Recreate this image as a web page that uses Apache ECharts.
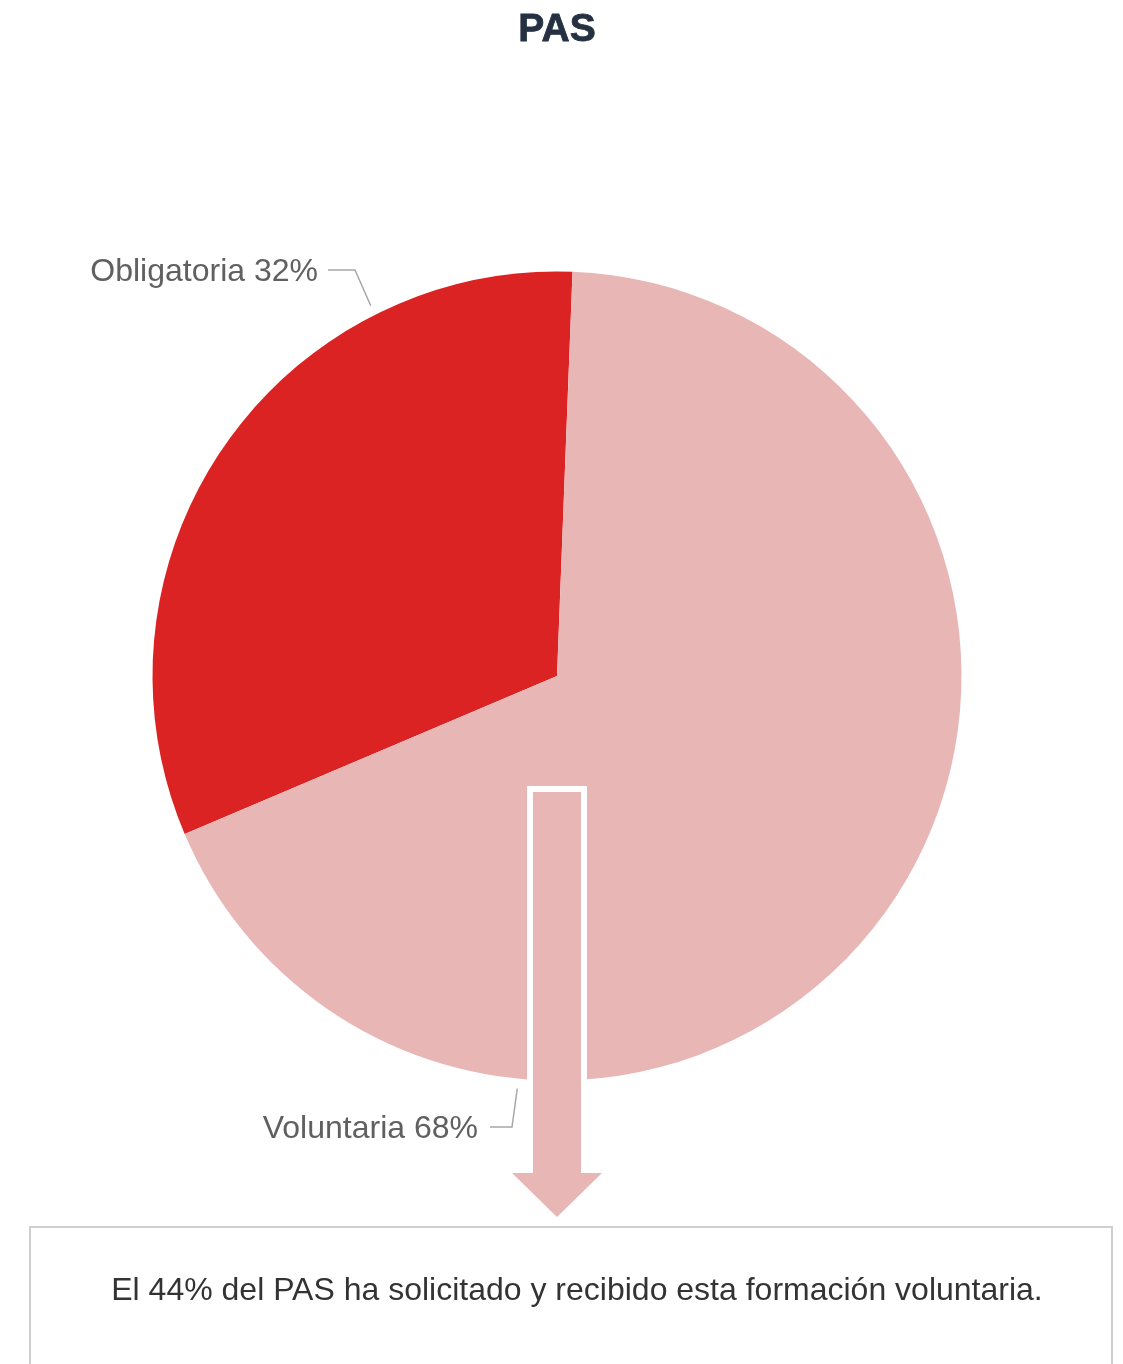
<!DOCTYPE html>
<html>
<head>
<meta charset="utf-8">
<style>
  html, body { margin: 0; padding: 0; background: #ffffff; }
  #chart { width: 1123px; height: 1364px; }
</style>
<script src="https://cdn.jsdelivr.net/npm/echarts@6/dist/echarts.min.js"></script>
</head>
<body>
<div id="chart"></div>
<script>
// ---- data ----
const titleText = 'PAS';
const categories = ['Obligatoria', 'Voluntaria'];
const values = [32, 68];
const colors = ['#DC2323', '#E9B6B6'];
const noteText = 'El 44% del PAS ha solicitado y recibido esta formación voluntaria.';

// ---- layout ----
const CX = 557, CY = 676, R = 404.5;
// label anchors: [start angle(deg, math), bend point, text end]
const labelGeo = [
  { ang: 116.7, bend: [355, 270], end: [328, 270], text: [318, 272] },
  { ang: 264.5, bend: [512, 1127], end: [490, 1127], text: [478, 1129] }
];

const chart = echarts.init(document.getElementById('chart'), null, { renderer: 'canvas' });

const arrowPts = [[533, 792], [581, 792], [581, 1173], [602, 1173], [557, 1217], [512, 1173], [533, 1173]];

const option = {
  backgroundColor: '#ffffff',
  animation: false,
  series: [{
    type: 'pie',
    center: [CX, CY],
    radius: R,
    startAngle: 203,
    clockwise: true,
    avoidLabelOverlap: false,
    data: categories.map((c, i) => ({ name: c, value: values[i], itemStyle: { color: colors[i] } })),
    label: {
      show: true,
      position: 'outside',
      formatter: '{b} {c}%',
      fontFamily: 'Liberation Sans',
      fontSize: 32,
      color: '#606060'
    },
    labelLine: { show: true, lineStyle: { color: '#a8a8a8', width: 1.5 } },
    labelLayout: function (params) {
      const g = labelGeo[params.dataIndex];
      const a = g.ang * Math.PI / 180;
      const sx = CX + (R + 10) * Math.cos(a);
      const sy = CY - (R + 10) * Math.sin(a);
      return {
        x: g.text[0], y: g.text[1],
        align: 'right', verticalAlign: 'middle',
        labelLinePoints: [[sx, sy], g.bend, g.end]
      };
    },
    emphasis: { disabled: true }
  }],
  graphic: [
    {
      type: 'text', z: 102,
      x: 557, y: 30,
      style: {
        text: titleText,
        fontFamily: 'Liberation Sans', fontSize: 39, fontWeight: 'bold', fill: '#253142',
        stroke: '#253142', lineWidth: 0.8,
        align: 'center', verticalAlign: 'middle'
      }
    },
    {
      type: 'polygon', z: 100,
      shape: { points: arrowPts },
      style: { fill: '#ffffff', stroke: '#ffffff', lineWidth: 12, lineJoin: 'miter', miterLimit: 10 }
    },
    {
      type: 'polygon', z: 101,
      shape: { points: arrowPts },
      style: { fill: colors[1] }
    },
    {
      type: 'rect', z: 99,
      shape: { x: 30, y: 1227, width: 1082, height: 200 },
      style: { fill: '#ffffff', stroke: '#cfcfcf', lineWidth: 2 }
    },
    {
      type: 'text', z: 102,
      x: 577, y: 1291,
      style: {
        text: noteText,
        fontFamily: 'Liberation Sans', fontSize: 32, fill: '#333333',
        align: 'center', verticalAlign: 'middle'
      }
    }
  ]
};
chart.setOption(option);
</script>
</body>
</html>
